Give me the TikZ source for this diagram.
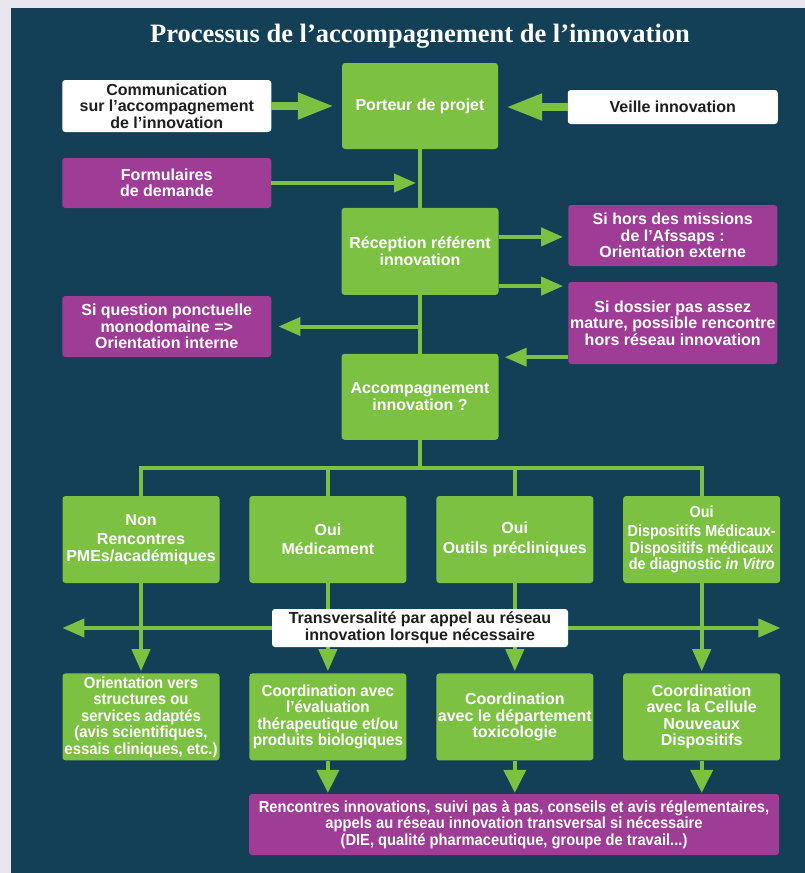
\documentclass[tikz,border=0pt]{standalone}
\usepackage{fontspec}
\usepackage{graphicx}
\usetikzlibrary{positioning, arrows.meta}
\newfontfamily\diagfont{Liberation Sans}
\newfontfamily\titlefont{Liberation Serif}
\definecolor{PageBg}   {HTML}{E9E5EC}
\definecolor{Panel}    {HTML}{133F57}
\definecolor{BoxGreen} {HTML}{7DC142}
\definecolor{BoxPurple}{HTML}{9E3C96}
\definecolor{TxtDark}  {HTML}{1E1E1E}

\tikzset{
  card/.style={rounded corners=3pt, inner sep=0pt, align=center,
    font=\diagfont\bfseries\fontsize{16}{16.5}\selectfont},
  narrow/.style={font=\diagfont\bfseries\fontsize{16}{16.5}\selectfont\addfontfeature{FakeStretch=#1}},
  greencard/.style={card, fill=BoxGreen, text=white, minimum width=157pt, minimum height=87pt},
  purplecard/.style={card, fill=BoxPurple, text=white, minimum width=209pt},
  whitecard/.style={card, fill=white, text=TxtDark},
  link/.style={draw=BoxGreen, line width=4pt},
  thinarrow/.style={link, ->},
  bigarrow/.style={link, -{Triangle[length=23pt,width=22pt]}},
  fatarrow/.style={draw=BoxGreen, line width=8pt, -{Triangle[length=36pt,width=25pt]}},
}

\begin{document}
\begin{tikzpicture}[x=1pt, y=-1pt, node distance=58.5pt,
    >={Triangle[length=22pt,width=18pt]}]
  \useasboundingbox (0,0) rectangle (805,873);
  \fill[PageBg] (0,0) rectangle (805,873);
  \fill[Panel] (11,8) rectangle (805,873);

  \node[text=white, font=\titlefont\bfseries\fontsize{26.5}{30}\selectfont] (title) at (420,36)
    {Processus de l’accompagnement de l’innovation};

  % main column
  \node[greencard, minimum width=156pt, minimum height=86pt] (porteur) at (420,106) {Porteur de projet};
  \node[greencard, below=of porteur] (reception) {Réception référent\\ innovation};
  \node[greencard, minimum height=86pt, below=of reception] (accomp) {Accompagnement\\ innovation ?};

  % left column
  \node[whitecard, minimum width=209pt, minimum height=52pt] (comm) at (166.75,106)
    {Communication\\ sur l’accompagnement\\ de l’innovation};
  \node[purplecard, minimum height=50pt] (formul) at (166.75,183) {Formulaires\\ de demande};
  \node[purplecard, minimum height=61pt] (sique) at (166.75,326.5)
    {Si question ponctuelle\\ monodomaine =>\\ Orientation interne};

  % right column
  \node[whitecard, minimum width=210pt, minimum height=34pt] (veille) at (672.75,107) {Veille innovation};
  \node[purplecard, minimum height=61pt] (sihors) at (672.75,235.5)
    {Si hors des missions\\ de l’Afssaps :\\ Orientation externe};
  \node[purplecard, minimum height=82pt] (sidossier) at (672.75,323)
    {Si dossier pas assez\\ mature, possible rencontre\\ hors réseau innovation};

  % first row
  \node[greencard] (non) at (141,539.5) {Non\\[3pt] Rencontres\\ PMEs/académiques};
  \node[greencard, right=29.5pt of non] (medic) {Oui\\[3pt] Médicament};
  \node[greencard, right=29.5pt of medic] (outils) {Oui\\[3pt] Outils précliniques};
  \node[greencard, narrow=0.9, right=29.5pt of outils] (dispo)
    {Oui\\[3pt] Dispositifs Médicaux-\\ Dispositifs médicaux\\ de diagnostic \textit{in Vitro}};

  % second row
  \node[greencard, narrow=0.93, below=90pt of non] (orient)
    {Orientation vers\\ structures ou\\ services adaptés\\ (avis scientifiques,\\ essais cliniques, etc.)};
  \node[greencard, narrow=0.95, below=90pt of medic] (evalu)
    {Coordination avec\\ l’évaluation\\ thérapeutique et/ou\\ produits biologiques};
  \node[greencard, below=90pt of outils] (toxico) {Coordination\\ avec le département\\ toxicologie};
  \node[greencard, below=90pt of dispo] (cellule) {Coordination\\ avec la Cellule\\ Nouveaux\\ Dispositifs};

  \node[purplecard, narrow=0.92, minimum width=530pt, minimum height=61pt] (rencontres) at (514,824.5)
    {Rencontres innovations, suivi pas à pas, conseils et avis réglementaires,\\
     appels au réseau innovation transversal si nécessaire\\
     (DIE, qualité pharmaceutique, groupe de travail...)};

  % connectors
  \draw[fatarrow] (comm.east) -- ([xshift=-8pt]comm.east -| porteur.west);
  \draw[fatarrow] (veille.west) -- ([xshift=8pt]veille.west -| porteur.east);
  \draw[link] (porteur.south) -- (reception.north);
  \draw[link] (reception.south) -- (accomp.north);
  \draw[thinarrow] (formul.east) -- ([xshift=-4pt]formul.east -| porteur.south);
  \draw[thinarrow] ([yshift=14.5pt]reception.east) -- ([xshift=-5pt,yshift=14.5pt]reception.east -| sihors.west);
  \draw[thinarrow] ([yshift=9pt]reception.south east) -- ([xshift=-5pt,yshift=9pt]reception.south east -| sidossier.west);
  \draw[thinarrow] (sique.east -| reception.south) -- ([xshift=7pt]sique.east);
  \draw[thinarrow] ([yshift=7pt]sidossier.south west) -- ([xshift=6pt,yshift=7pt]sidossier.south west -| accomp.east);

  \coordinate (fork) at ([yshift=-28pt]accomp.south);
  \draw[link] (accomp.south) -- (fork);
  \draw[link] (non.north) |- (fork) -| (dispo.north);
  \draw[link] (medic.north) -- (medic.north |- fork);
  \draw[link] (outils.north) -- (outils.north |- fork);

  \foreach \a/\b in {non/orient, medic/evalu, outils/toxico, dispo/cellule}
    \draw[thinarrow] (\a.south) -- ([yshift=2pt]\b.north);
  \foreach \a in {evalu, toxico, cellule}
    \draw[bigarrow] (\a.south) -- ([yshift=1pt]\a.south |- rencontres.north);

  % transversal line behind its label
  \coordinate (transvc) at (420,628);
  \draw[link, <->] (transvc -| non.west) -- (transvc -| dispo.east);
  \node[whitecard, minimum width=296pt, minimum height=38pt] (transv) at (transvc)
    {Transversalité par appel au réseau\\ innovation lorsque nécessaire};
\end{tikzpicture}
\end{document}
